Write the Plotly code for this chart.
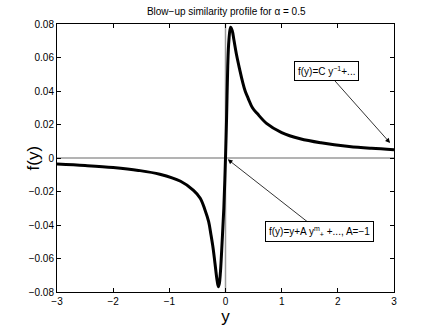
import plotly.graph_objects as go

# similarity profile f(y)
y_vals = [-3.0, -2.5, -2.0, -1.55, -1.17, -0.8, -0.57, -0.45, -0.365, -0.3, -0.258,
          -0.22, -0.187, -0.15, -0.128, -0.11, -0.09, -0.06, -0.03, 0.0, 0.02, 0.04,
          0.06, 0.09, 0.12, 0.15, 0.2, 0.255, 0.3, 0.35, 0.405, 0.48, 0.566, 0.73,
          1.0, 1.33, 1.7, 2.2, 2.6, 3.0]
f_vals = [-0.0036, -0.0045, -0.0057, -0.0074, -0.0097, -0.0139, -0.0193, -0.024, -0.031,
          -0.038, -0.046, -0.054, -0.063, -0.073, -0.0768, -0.075, -0.068, -0.05, -0.03,
          0.0, 0.025, 0.055, 0.07, 0.078, 0.076, 0.0704, 0.061, 0.0525, 0.046, 0.040,
          0.0355, 0.030, 0.0265, 0.0207, 0.0152, 0.0115, 0.0091, 0.0069, 0.0058, 0.005]

x_ticks = [-3, -2, -1, 0, 1, 2, 3]
y_ticks = [-0.08, -0.06, -0.04, -0.02, 0, 0.02, 0.04, 0.06, 0.08]

font = "Liberation Sans, Arial, sans-serif"

fig = go.Figure()

fig.add_trace(go.Scatter(x=y_vals, y=f_vals, mode="lines",
                         line=dict(color="black", width=3, shape="spline", smoothing=1.0),
                         showlegend=False))

# grey reference axes through the origin
fig.add_shape(type="line", x0=-3, x1=3, y0=0, y1=0, xref="x", yref="y",
              line=dict(color="#9a9a9a", width=1.5), layer="below")
fig.add_shape(type="line", x0=0, x1=0, y0=-0.08, y1=0.08, xref="x", yref="y",
              line=dict(color="#9a9a9a", width=1.5), layer="below")

fig.add_annotation(x=2.93, y=0.009, ax=1.79, ay=0.052, axref="x", ayref="y",
                   text="f(y)=C y<sup>\u22121</sup>+...", showarrow=True,
                   arrowhead=2, arrowsize=1.2, arrowwidth=0.8, arrowcolor="black",
                   bordercolor="black", borderwidth=1, borderpad=3, bgcolor="white",
                   font=dict(family=font, size=10, color="black"))
fig.add_annotation(x=0.04, y=-0.0008, ax=1.68, ay=-0.0439, axref="x", ayref="y",
                   text="f(y)=y+A y<sup>m</sup><sub>+</sub> +..., A=\u22121", showarrow=True,
                   arrowhead=2, arrowsize=1.2, arrowwidth=0.8, arrowcolor="black",
                   bordercolor="black", borderwidth=1, borderpad=3, bgcolor="white",
                   font=dict(family=font, size=10, color="black"))

# y axis title placed by hand, a bit closer to the tick labels than plotly puts it
fig.add_annotation(text="f(y)", xref="paper", yref="paper", x=-0.104, y=0.5,
                   textangle=-90, showarrow=False,
                   font=dict(family=font, size=17, color="black"))

axis_common = dict(showgrid=False, zeroline=False, showline=True, linecolor="black",
                   linewidth=1, mirror="ticks", ticks="inside", ticklen=4, automargin=False,
                   tickcolor="black", tickfont=dict(family=font, size=10, color="black"))

fig.update_xaxes(range=[-3, 3], tickvals=x_ticks,
                 ticktext=[str(v).replace("-", "\u2212") for v in x_ticks],
                 title=dict(text="y", font=dict(family=font, size=17, color="black"), standoff=0),
                 **axis_common)
fig.update_yaxes(range=[-0.08, 0.08], tickvals=y_ticks,
                 ticktext=["0" if v == 0 else f"{v:.2f}".replace("-", "\u2212") for v in y_ticks],
                 **axis_common)

fig.update_layout(
    width=435, height=326,
    margin=dict(l=57, r=41, t=24, b=34),
    paper_bgcolor="white", plot_bgcolor="white",
    title=dict(text="Blow\u2212up similarity profile for \u03b1 = 0.5", x=0.52, xanchor="center",
               y=0.965, yanchor="middle", font=dict(family=font, size=10, color="black")),
)

# drop the browser's default page margin so the figure sits at the window corner
fig.write_html("out.html", config={"displayModeBar": False},
               post_script="document.body.style.margin='0';")
